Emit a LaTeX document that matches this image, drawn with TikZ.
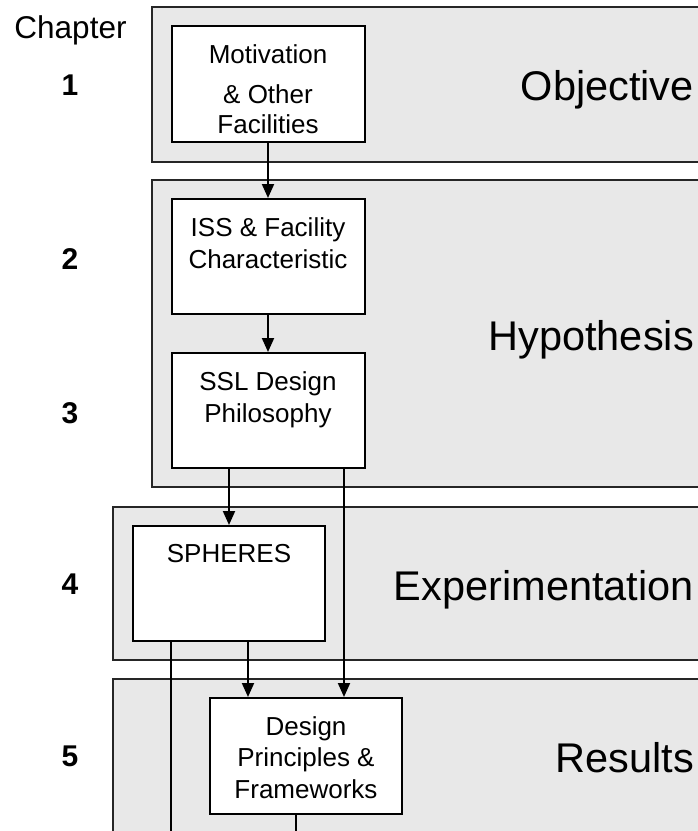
\documentclass[tikz,border=0pt]{standalone}
\usepackage{fontspec}
\setmainfont{Liberation Sans}
\usetikzlibrary{arrows.meta}

\definecolor{panelgray}{HTML}{E8E8E8}

\tikzset{
  panel/.style={draw=black!85, line width=1.6pt, fill=panelgray},
  stage/.style={draw=black, line width=2pt, fill=white},
  boxtext/.style={inner sep=0pt, align=center, anchor=base,
    font=\fontsize{26}{31.5}\selectfont},
  phase/.style={inner sep=0pt, anchor=base east,
    font=\fontsize{41.5}{48}\selectfont},
  chap/.style={inner sep=0pt, anchor=base,
    font=\fontsize{31.5}{36}\selectfont},
  num/.style={inner sep=0pt, anchor=base,
    font=\fontsize{30}{36}\selectfont\bfseries},
  flow/.style={line width=2pt, -{Triangle[length=14pt,width=12pt]}},
  link/.style={line width=2pt}
}

\begin{document}
\begin{tikzpicture}[x=1pt,y=-1pt]
\useasboundingbox (0,0) rectangle (698,831);
\clip (0,0) rectangle (698,831);

% phase panels (running off the right edge)
\path[panel] (152,7)   rectangle (720,162);
\path[panel] (152,180) rectangle (720,487);
\path[panel] (113,507) rectangle (720,660);
\path[panel] (113,679) rectangle (720,860);

% phase names
\node[phase] (objective) at (694,100) {Objective};
\node[phase] (hypothesis) at (694,350) {Hypothesis};
\node[phase] (experiment) at (694,600) {Experimentation};
\node[phase] (results) at (694,772) {Results};

% chapter column
\node[chap] (chapter) at (70.5,38) {Chapter};
\node[num] (c1) at (70,95) {1};
\node[num] (c2) at (70,269) {2};
\node[num] (c3) at (70,423) {3};
\node[num] (c4) at (70,594) {4};
\node[num] (c5) at (70,766) {5};

% stage boxes
\node[stage, minimum width=193pt, minimum height=116pt] (mot) at (268,84) {};
\node[stage, minimum width=193pt, minimum height=115pt] (iss) at (268,256.5) {};
\node[stage, minimum width=193pt, minimum height=115pt] (ssl) at (268,410.5) {};
\node[stage, minimum width=192pt, minimum height=115pt] (sph) at (229,583.5) {};
\node[stage, minimum width=192pt, minimum height=116pt] (des) at (306,756) {};

% stage texts (multi-line texts sit on the baseline of their last line)
\node[boxtext] (motA) at (268,63) {Motivation};
\node[boxtext] (motB) at (268,103) {\& Other};
\node[boxtext] (motC) at (268,133) {Facilities};
\node[boxtext] (issT) at (268,268) {ISS \& Facility\\Characteristic};
\node[boxtext] (sslT) at (268,422) {SSL Design\\Philosophy};
\node[boxtext] (sphT) at (229,562) {SPHERES};
\node[boxtext] (desT) at (306,798) {Design\\Principles \&\\Frameworks};

% free ends at the bottom edge
\coordinate (sphOut) at (171,840);
\coordinate (desOut) at (296,840);

% connectors
\draw[flow] (mot.south) -- (iss.north);
\draw[flow] (iss.south) -- (ssl.north);
\draw[flow] (ssl.south -| sph.north) -- (sph.north);
\draw[flow] (ssl.south -| 344,0) -- (des.north -| 344,0);
\draw[flow] (sph.south -| 248,0) -- (des.north -| 248,0);
\draw[link] (sph.south -| sphOut) -- (sphOut);
\draw[link] (des.south -| desOut) -- (desOut);
\end{tikzpicture}
\end{document}
